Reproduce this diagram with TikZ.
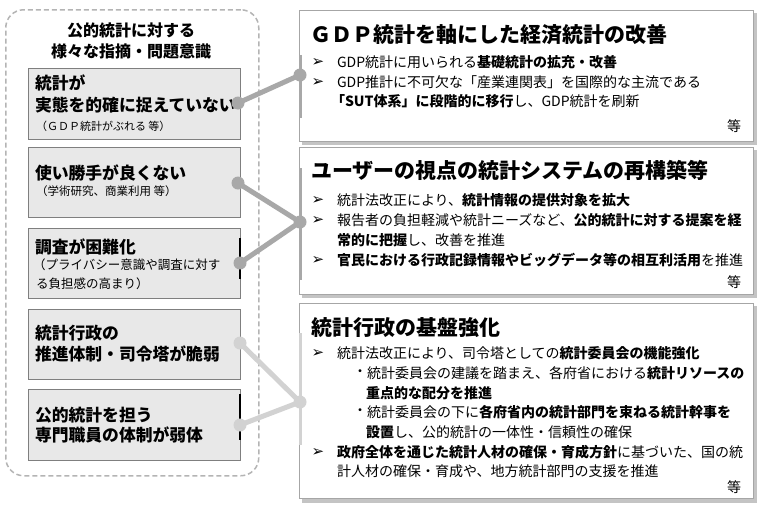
\documentclass[tikz,border=0pt]{standalone}
\usepackage{fontspec}
\setmainfont{Noto Sans CJK JP}
\newfontfamily\dvfont{DejaVu Sans}
\definecolor{lfill}{HTML}{E8E8E8}
\definecolor{lbord}{HTML}{7F7F7F}
\definecolor{rbord}{HTML}{A6A6A6}
\definecolor{rshad}{HTML}{C4C4C4}
\definecolor{dashc}{HTML}{B4B4B4}
\definecolor{connA}{HTML}{A8A8A8}
\definecolor{connC}{HTML}{D2D2D2}
\newcommand\fsz[1]{\fontsize{#1}{#1}\selectfont}
\begin{document}
\begin{tikzpicture}[x=1pt,y=-1pt,
  leftbox/.style={draw=lbord,fill=lfill,line width=0.8pt,anchor=north west,inner sep=0pt,outer sep=0pt},
  rightbox/.style={draw=rbord,fill=white,line width=1pt,anchor=north west,inner sep=0pt,outer sep=0pt},
  shadowbox/.style={fill=rshad,anchor=north west,inner sep=0pt,outer sep=0pt},
  txt/.style={anchor=west,inner sep=0pt,outer sep=0pt},
  ltitle/.style={anchor=center,inner sep=0pt,font=\fsz{16}\bfseries},
  lmain/.style={txt,font=\fsz{16.8}\bfseries},
  lsub/.style={txt,font=\fsz{12.5}},
  rtitle/.style={txt,font=\fsz{21}\bfseries},
  btxt/.style={txt,font=\fsz{14}},
  arrowb/.style={anchor=center,inner sep=0pt,font=\dvfont\fsz{15}},
  dotb/.style={anchor=center,inner sep=0pt,font=\fsz{14}},
  dotA/.style={circle,fill=connA,inner sep=0pt,minimum size=13pt},
  dotC/.style={circle,fill=connC,inner sep=0pt,minimum size=13pt},
  lineA/.style={draw=connA,line width=5pt},
  lineC/.style={draw=connC,line width=5pt},
  bracketA/.style={draw=connA,line width=3pt},
  bracketC/.style={draw=connC,line width=3pt},
  darkbar/.style={draw=black,line width=2pt}
]
\useasboundingbox[fill=white] (0,0) rectangle (760,504);

% outer dashed frame
\node[draw=dashc,dashed,dash pattern=on 5pt off 3pt,line width=1.5pt,rounded corners=18pt,
      minimum width=253pt,minimum height=466pt,anchor=north west,inner sep=0pt] (outer) at (5,9) {};
\node[ltitle] (lt1) at (131,30) {公的統計に対する};
\node[ltitle] (lt2) at (131,51) {様々な指摘・問題意識};

% left boxes
\node[leftbox,minimum width=212pt,minimum height=71pt] (b1) at (28,68) {};
\node[leftbox,minimum width=212pt,minimum height=70pt] (b2) at (28,147) {};
\node[leftbox,minimum width=212pt,minimum height=70pt] (b3) at (28,228) {};
\node[leftbox,minimum width=212pt,minimum height=70pt] (b4) at (28,309) {};
\node[leftbox,minimum width=212pt,minimum height=71pt] (b5) at (28,389) {};
\draw[darkbar] (240,238) coordinate (k1) -- (240,279) coordinate (k2);
\draw[darkbar] (240,394) coordinate (k3) -- (240,440) coordinate (k4);

\node[lmain] (b1a) at (35,83) {統計が};
\node[lmain] (b1b) at (35,105) {実態を的確に捉えていない};
\node[lsub,font=\fsz{11}] (b1c) at (36,126) {（ＧＤＰ統計がぶれる 等）};
\node[lmain] (b2a) at (35,173) {使い勝手が良くない};
\node[lsub,font=\fsz{11.5}] (b2b) at (36,191) {（学術研究、商業利用 等）};
\node[lmain] (b3a) at (35,247) {調査が困難化};
\node[lsub] (b3b) at (33,265) {（プライバシー意識や調査に対す};
\node[lsub] (b3c) at (36,284) {る負担感の高まり）};
\node[lmain] (b4a) at (35,333) {統計行政の};
\node[lmain] (b4b) at (35,354) {推進体制・司令塔が脆弱};
\node[lmain] (b5a) at (35,415) {公的統計を担う};
\node[lmain] (b5b) at (35,435) {専門職員の体制が弱体};

% right boxes with shadows
\node[shadowbox,minimum width=455pt,minimum height=132pt] (sA) at (302,13) {};
\node[rightbox,minimum width=454pt,minimum height=131pt] (rA) at (299,10) {};
\node[shadowbox,minimum width=455pt,minimum height=148pt] (sB) at (302,150) {};
\node[rightbox,minimum width=454pt,minimum height=147pt] (rB) at (299,147) {};
\node[shadowbox,minimum width=455pt,minimum height=197pt] (sC) at (302,306) {};
\node[rightbox,minimum width=454pt,minimum height=195pt] (rC) at (299,303) {};

% brackets on right boxes
\draw[bracketA] (300,55) coordinate (ba1) -- (300,118) coordinate (ba2);
\draw[bracketA] (300,168) coordinate (bb1) -- (300,280) coordinate (bb2);
\draw[bracketC] (300,333) coordinate (bc1) -- (300,445) coordinate (bc2);

% box A text
\node[rtitle] (ta) at (310,35) {ＧＤＰ統計を軸にした経済統計の改善};
\node[arrowb] (aa1) at (318,62) {➢};
\node[btxt] (ta1) at (337,62) {GDP統計に用いられる\textbf{基礎統計の拡充・改善}};
\node[arrowb] (aa2) at (318,82) {➢};
\node[btxt] (ta2) at (337,82) {GDP推計に不可欠な「産業連関表」を国際的な主流である};
\node[btxt] (ta3) at (331,101) {\textbf{「SUT体系」に段階的に移行}し、GDP統計を刷新};
\node[btxt] (ta4) at (727,126) {等};

% box B text
\node[rtitle] (tb) at (311,170) {ユーザーの視点の統計システムの再構築等};
\node[arrowb] (ab1) at (318,200) {➢};
\node[btxt] (tb1) at (337,200) {統計法改正により、\textbf{統計情報の提供対象を拡大}};
\node[arrowb] (ab2) at (318,220) {➢};
\node[btxt] (tb2) at (337,220) {報告者の負担軽減や統計ニーズなど、\textbf{公的統計に対する提案を経}};
\node[btxt] (tb3) at (337,240) {\textbf{常的に把握}し、改善を推進};
\node[arrowb] (ab3) at (318,260) {➢};
\node[btxt] (tb4) at (337,260) {\textbf{官民における行政記録情報やビッグデータ等の相互利活用}を推進};
\node[btxt] (tb5) at (727,282) {等};

% box C text
\node[rtitle] (tc) at (311,328) {統計行政の基盤強化};
\node[arrowb] (ac1) at (318,353) {➢};
\node[btxt] (tc1) at (337,353) {統計法改正により、司令塔としての\textbf{統計委員会の機能強化}};
\node[dotb] (dc1) at (360,373) {・};
\node[btxt] (tc2) at (367,373) {統計委員会の建議を踏まえ、各府省における\textbf{統計リソースの}};
\node[btxt] (tc3) at (366,393) {\textbf{重点的な配分を推進}};
\node[dotb] (dc2) at (360,412) {・};
\node[btxt] (tc4) at (367,412) {統計委員会の下に\textbf{各府省内の統計部門を束ねる統計幹事を}};
\node[btxt] (tc5) at (366,432) {\textbf{設置}し、公的統計の一体性・信頼性の確保};
\node[arrowb] (ac2) at (318,452) {➢};
\node[btxt] (tc6) at (337,452) {\textbf{政府全体を通じた統計人材の確保・育成方針}に基づいた、国の統};
\node[btxt] (tc7) at (337,471) {計人材の確保・育成や、地方統計部門の支援を推進};
\node[btxt] (tc8) at (727,487) {等};

% connectors: end points, lines, then dots on top
\coordinate (c1) at (238,103);
\coordinate (d1) at (300,75);
\coordinate (c2) at (238,183);
\coordinate (c3) at (240,263);
\coordinate (d2) at (300,222);
\coordinate (c4) at (240,343);
\coordinate (c5) at (240,425);
\coordinate (d3) at (300,402);
\draw[lineA] (c1) -- (d1);
\draw[lineA] (c2) -- (d2);
\draw[lineA] (c3) -- (d2);
\draw[lineC] (c4) -- (d3);
\draw[lineC] (c5) -- (d3);
\node[dotA] (p1) at (c1) {};
\node[dotA] (q1) at (d1) {};
\node[dotA] (p2) at (c2) {};
\node[dotA] (p3) at (c3) {};
\node[dotA] (q2) at (d2) {};
\node[dotC] (p4) at (c4) {};
\node[dotC] (p5) at (c5) {};
\node[dotC] (q3) at (d3) {};
\end{tikzpicture}
\end{document}
